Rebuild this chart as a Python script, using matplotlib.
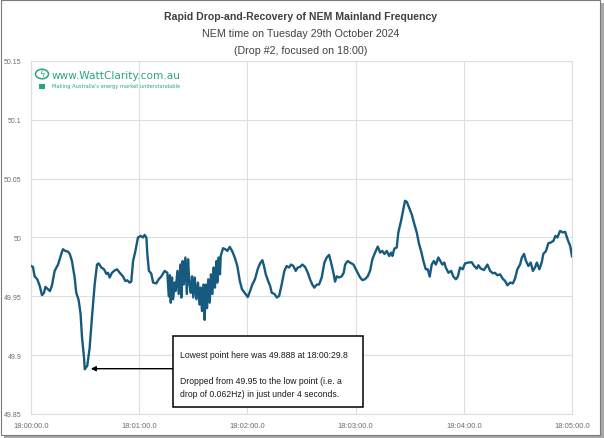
import matplotlib
matplotlib.use('Agg')
import matplotlib.pyplot as plt
from matplotlib.patches import Rectangle, Circle

plt.rcParams['font.family'] = ['Liberation Sans', 'DejaVu Sans']

# seconds after 18:00:00 and frequency (Hz)
secs = [0, 1.1, 2, 3.5, 4.8, 6.1, 7.2, 8, 9.4, 10.5, 11.6, 13.1, 15, 16.8, 17.7,
        19, 20.5, 21.5, 22.7, 24.2, 25.1, 26.4, 27.5, 28.3, 29.4, 29.8, 31.2,
        32.5, 33.8, 35.3, 36.6, 37.5, 39, 40.5, 41.8, 42.7, 43.6, 44.9, 46.4,
        47.7, 49.2, 51, 52.3, 53.4, 54.7, 55.6, 56.6, 57.9, 59.3, 60.8, 62.1,
        63, 64, 64.5, 65.4, 66.7, 67.7, 69.5, 70.8, 72.3, 74.1, 75.6,
        76.4, 77, 77.5, 78.2, 78.8, 79.7, 80.2, 81.2, 81.9, 82.8, 83.4, 84.1,
        84.7, 85.6, 86.4, 87.1, 87.8, 88.6, 89.3, 90, 90.8, 91.7, 92.6, 93.4,
        94.1, 94.8, 95.6, 96.3, 96.9, 97.6, 98.3, 99.1, 99.8, 100.6, 101.3,
        102, 102.8, 103.3, 104.1, 104.8, 105.2,
        106.5, 107.8, 108.9, 110.2, 111.5, 113, 114.4, 115.8, 117, 118.5,
        120.2, 121.5, 122.7, 124.2, 125.7, 127, 128.3, 129.2, 130.2, 131.6,
        132.6, 133.5, 135, 136.3, 137.6, 139, 140.5, 141.8, 143.1, 144.2,
        145.5, 146.8, 147.9, 149.2, 150.5, 152, 153.5, 154.7, 156, 157.1,
        158.5, 159.7, 161.2, 162.7, 164, 165.3, 166.4, 167.7, 168.6, 169.6,
        170.8, 172.3, 173.4, 174.2, 175.6, 176.9, 178.8, 180.6, 182.5, 183.7,
        185.2, 186.7, 188, 189.3, 190.8, 192.3, 193.6, 194.8, 196, 197.3,
        198.6, 199.7, 200.4, 201.5, 202.8, 203.7, 205.2, 206.5, 207.4, 208.4,
        209.6, 211.1, 212.6, 213.9, 215.2, 216.3, 217.6, 218.9, 220, 221.1,
        222.2, 223.4, 224.5, 225.9, 227, 228.1, 229.2, 230, 231.5, 233,
        234.2, 235.6, 236.7, 237.9, 239.4, 240.7, 242.5, 244.4, 245.7, 247.2,
        248.1, 249.4, 251.2, 253.1, 254.6, 256.1, 257.3, 258.6, 260.1, 261.6,
        262.9, 264.2, 265.7, 267.2, 268.4, 269.7, 271.2, 272.2, 273.4, 274.5,
        275.8, 277.1, 278.3, 279.5, 280.5, 281.9, 283.2, 284.1, 285.6, 286.9,
        288.2, 289.7, 290.8, 291.9, 293.4, 294.9, 296.2, 297.5, 299, 300]
freq = [49.9758, 49.975, 49.967, 49.9645, 49.959, 49.951, 49.953, 49.958, 49.956,
        49.9545, 49.959, 49.9716, 49.977, 49.986, 49.990, 49.9886, 49.988,
        49.986, 49.980, 49.966, 49.953, 49.947, 49.935, 49.915, 49.898, 49.888,
        49.891, 49.906, 49.932, 49.960, 49.977, 49.978, 49.9745, 49.973, 49.969,
        49.970, 49.966, 49.970, 49.972, 49.973, 49.970, 49.967, 49.963, 49.9636,
        49.9617, 49.9625, 49.980, 49.9886, 50.000, 50.0014, 50.000, 50.0022,
        50.000, 49.986, 49.9716, 49.9693, 49.9617, 49.961, 49.9645, 49.967,
        49.9716, 49.970,
        49.950, 49.968, 49.9446, 49.966, 49.9475, 49.9617, 49.9545, 49.9716,
        49.952, 49.977, 49.949, 49.980, 49.960, 49.983, 49.952, 49.9815,
        49.9617, 49.953, 49.967, 49.949, 49.966, 49.9475, 49.9617, 49.943,
        49.9574, 49.9375, 49.960, 49.930, 49.960, 49.940, 49.9645, 49.9446,
        49.9687, 49.952, 49.9745, 49.9574, 49.980, 49.9617, 49.983, 49.9687,
        49.9843,
        49.9909, 49.990, 49.9886, 49.992, 49.9886, 49.983, 49.9758, 49.963,
        49.956, 49.953, 49.9494, 49.9545, 49.960, 49.9645, 49.973, 49.9779,
        49.9807, 49.9758, 49.9687, 49.9625, 49.9588, 49.953, 49.952, 49.949,
        49.9503, 49.960, 49.9716, 49.9758, 49.9745, 49.977, 49.9758, 49.9716,
        49.9745, 49.975, 49.977, 49.975, 49.970, 49.9645, 49.960, 49.9574,
        49.960, 49.960, 49.966, 49.9787, 49.983, 49.9852, 49.9787, 49.970,
        49.9625, 49.967, 49.966, 49.967, 49.970, 49.977, 49.980, 49.9787,
        49.977, 49.9716, 49.966, 49.9639, 49.9645, 49.967, 49.9716, 49.9815,
        49.9872, 49.9923, 49.9872, 49.9886, 49.986, 49.9886, 49.9843, 49.9872,
        49.9843, 49.9906, 49.9915, 50.0043, 50.0141, 50.024, 50.0312, 50.0303,
        50.0256, 50.0198, 50.0113, 50.0043, 49.9943, 49.9886, 49.980, 49.973,
        49.973, 49.9668, 49.977, 49.980, 49.977, 49.983, 49.980, 49.977,
        49.9787, 49.9745, 49.970, 49.9716, 49.9668, 49.9645, 49.9668, 49.9745,
        49.973, 49.978, 49.9787, 49.979, 49.9758, 49.9736, 49.9764, 49.9736,
        49.9724, 49.977, 49.9716, 49.9696, 49.970, 49.9679, 49.9687, 49.965,
        49.963, 49.9594, 49.9617, 49.961, 49.965, 49.973, 49.977, 49.983,
        49.986, 49.980, 49.9758, 49.9787, 49.9716, 49.9745, 49.9787, 49.973,
        49.9787, 49.986, 49.9886, 49.9951, 49.9957, 49.9971, 50.0014, 50.000,
        50.0056, 50.0043, 50.0048, 49.9986, 49.9928, 49.984]

xtick_secs = [0, 60, 120, 180, 240, 300]
xtick_labels = ['18:00:00.0', '18:01:00.0', '18:02:00.0', '18:03:00.0',
                '18:04:00.0', '18:05:00.0']
yticks = [49.85, 49.9, 49.95, 50, 50.05, 50.1, 50.15]
ytick_labels = ['49.85', '49.9', '49.95', '50', '50.05', '50.1', '50.15']

low_t, low_f = 29.8, 49.888

fig = plt.figure(figsize=(6.04, 4.39), dpi=100)

# framed screenshot look: shadow + border
fig.patches.append(Rectangle((4 / 604, 0), 600 / 604, 435 / 439, transform=fig.transFigure,
                             facecolor='#a8a8a8', edgecolor='none', zorder=-3))
fig.patches.append(Rectangle((1 / 604, 3.5 / 439), 598.5 / 604, 434.5 / 439,
                             transform=fig.transFigure, facecolor='white',
                             edgecolor='#7a7a7a', linewidth=0.8, zorder=-2))

ax = fig.add_axes([31 / 604, 1 - 415 / 439, 541 / 604, 353 / 439])
ax.plot(secs, freq, color='#165a7e', linewidth=1.7, zorder=3)

ax.set_xlim(0, 300)
ax.set_ylim(49.85, 50.15)
ax.set_xticks(xtick_secs)
ax.set_xticklabels(xtick_labels)
ax.set_yticks(yticks)
ax.set_yticklabels(ytick_labels)
ax.tick_params(length=0, labelsize=5.5, labelcolor='#6e6e6e')
ax.tick_params(axis='x', pad=6)
ax.tick_params(axis='y', pad=7, labelsize=5.0)
ax.grid(True, color='#dedede', linewidth=0.8)
ax.set_axisbelow(True)
for s in ax.spines.values():
    s.set_color('#dedede')
    s.set_linewidth(0.8)

# annotation box + arrow (box: px left 173, right 363, top 337, bottom 408)
ax.annotate('', xy=(low_t + 3.4, low_f + 0.0005), xytext=(78.8, low_f + 0.0005),
            arrowprops=dict(arrowstyle='-|>', color='black', lw=1.0,
                            mutation_scale=7, shrinkA=0, shrinkB=0), zorder=4)
ax.add_patch(Rectangle(((173 - 31) / 541, (415 - 408) / 353), 190 / 541, 71 / 353,
                       transform=ax.transAxes, facecolor='white', edgecolor='black',
                       linewidth=1.1, zorder=5))
ax.text((180 - 31) / 541, (415 - 351) / 353,
        'Lowest point here was 49.888 at 18:00:29.8\n\n'
        'Dropped from 49.95 to the low point (i.e. a\n'
        'drop of 0.062Hz) in just under 4 seconds.',
        transform=ax.transAxes, fontsize=6.2, color='#1a1a1a', va='top', ha='left',
        linespacing=1.58, zorder=6)

# title
fig.text(0.497, 0.961, 'Rapid Drop-and-Recovery of NEM Mainland Frequency',
         ha='center', va='center', fontsize=7.6, fontweight='bold', color='#404040')
fig.text(0.497, 0.922, 'NEM time on Tuesday 29th October 2024',
         ha='center', va='center', fontsize=7.7, color='#404040')
fig.text(0.497, 0.883, '(Drop #2, focused on 18:00)',
         ha='center', va='center', fontsize=7.7, color='#404040')

# WattClarity logo
green = '#25a77a'
fig.patches.append(Circle((42 / 604, 1 - 75 / 439), 6.5 / 604, transform=fig.transFigure,
                          facecolor='none', edgecolor=green, linewidth=1.1))
fig.text(42 / 604, 1 - 75 / 439, '\u03df', ha='center', va='center', fontsize=6,
         color=green, family='DejaVu Sans')
fig.patches.append(Rectangle((39 / 604, 1 - 90 / 439), 6 / 604, 5 / 439,
                             transform=fig.transFigure, facecolor=green, edgecolor='none'))
fig.text(52 / 604, 1 - 76 / 439, 'www.WattClarity.com.au', ha='left', va='center',
         fontsize=7.6, color=green, family='DejaVu Sans')
fig.text(52 / 604, 1 - 86.5 / 439, "Making Australia's energy market understandable",
         ha='left', va='center', fontsize=3.7, color=green, family='DejaVu Sans')

fig.savefig('out.png', dpi=100)
